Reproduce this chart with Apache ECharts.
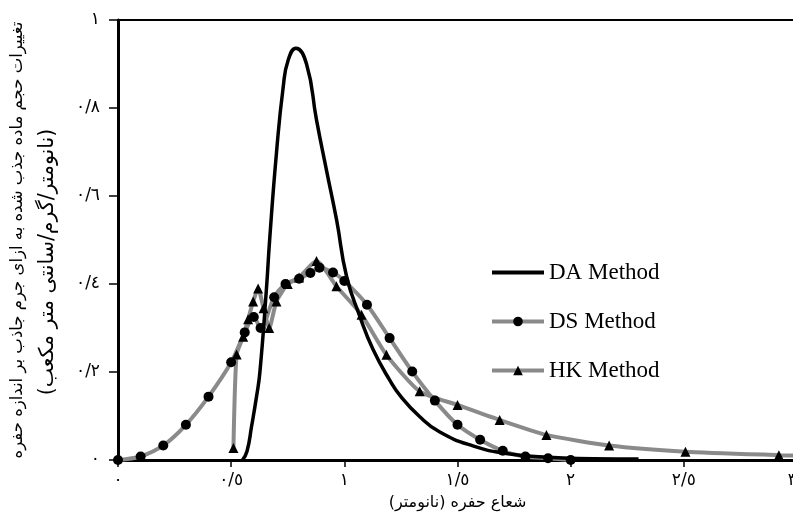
<!DOCTYPE html>
<html>
<head>
<meta charset="utf-8">
<script src="https://cdn.jsdelivr.net/npm/echarts@6/dist/echarts.min.js"></script>
<style>html,body{margin:0;padding:0;background:#fff}#c{width:793px;height:517px}</style>
</head>
<body>
<div id="c"></div>
<script>
// Data
const seriesNames = ['DA Method', 'DS Method', 'HK Method'];
const xTickLabels = ['٠', '٠/٥', '١', '١/٥', '٢', '٢/٥', '٣'];
const yTickLabels = ['٠', '٠/٢', '٠/٤', '٠/٦', '٠/٨', '١'];
const xAxisTitle = 'شعاع حفره (نانومتر)';
const yAxisTitleLine1 = 'تغییرات حجم ماده جذب شده به ازای جرم جاذب بر اندازه حفره';
const yAxisTitleLine2 = '(نانومتر/گرم/سانتی متر مکعب)';

const daX = [0.55, 0.57, 0.59, 0.612, 0.627, 0.656, 0.67, 0.70, 0.73, 0.752, 0.786, 0.833, 0.877, 0.921, 0.966, 1.01, 1.068, 1.127, 1.2, 1.25, 1.33, 1.42, 1.568, 1.715, 1.9, 2.1, 2.3];
const daY = [0.0, 0.02, 0.076, 0.144, 0.2, 0.39, 0.5, 0.697, 0.848, 0.909, 0.936, 0.9, 0.773, 0.659, 0.545, 0.417, 0.327, 0.251, 0.182, 0.144, 0.1, 0.064, 0.032, 0.015, 0.006, 0.003, 0.002];

const dsX = [0, 0.1, 0.2, 0.3, 0.4, 0.5, 0.56, 0.6, 0.63, 0.69, 0.74, 0.8, 0.85, 0.89, 0.95, 1.0, 1.1, 1.2, 1.3, 1.4, 1.5, 1.6, 1.7, 1.8, 1.9, 2.0];
const dsY = [0, 0.008, 0.033, 0.08, 0.144, 0.222, 0.29, 0.325, 0.30, 0.37, 0.40, 0.412, 0.425, 0.437, 0.426, 0.407, 0.353, 0.277, 0.201, 0.135, 0.08, 0.046, 0.021, 0.008, 0.004, 0.0];

const hkX = [0.51, 0.524, 0.553, 0.575, 0.597, 0.619, 0.643, 0.668, 0.70, 0.75, 0.80, 0.877, 0.965, 1.076, 1.186, 1.333, 1.5, 1.686, 1.893, 2.17, 2.507, 2.92, 3.0];
const hkY = [0.027, 0.24, 0.28, 0.32, 0.36, 0.39, 0.345, 0.30, 0.36, 0.40, 0.415, 0.452, 0.395, 0.33, 0.239, 0.156, 0.125, 0.091, 0.057, 0.033, 0.019, 0.011, 0.01];

const zip = (xs, ys) => xs.map((x, i) => [x, ys[i]]);

const chart = echarts.init(document.getElementById('c'), null, {renderer: 'canvas'});
const serif = "'Liberation Serif', 'DejaVu Serif', serif";
const persian = "'DejaVu Sans', sans-serif";
chart.setOption({
  animation: false,
  backgroundColor: '#fff',
  grid: {left: 118, right: -4, top: 20, bottom: 57, show: true, borderColor: '#000', borderWidth: 2,
    containLabel: false, outerBoundsMode: 'none'},
  legend: {
    orient: 'vertical', left: 485, top: 256, itemWidth: 52, itemHeight: 12, itemGap: 26,
    lineStyle: {width: 4},
    textStyle: {fontFamily: serif, fontSize: 23, color: '#000'},
    data: [
      {name: seriesNames[0], itemStyle: {opacity: 0}},
      {name: seriesNames[1]},
      {name: seriesNames[2]}
    ]
  },
  xAxis: {
    type: 'value', min: 0, max: 3, interval: 0.5,
    name: xAxisTitle, nameLocation: 'middle', nameGap: 35,
    nameTextStyle: {fontFamily: persian, fontSize: 16, color: '#000'},
    axisLine: {lineStyle: {color: '#000', width: 3}},
    axisTick: {show: true, length: 7, lineStyle: {color: '#000', width: 1.5}},
    axisLabel: {fontFamily: persian, fontSize: 17, color: '#000', margin: 12, alignMaxLabel: 'right',
      formatter: v => xTickLabels[Math.round(v / 0.5)]},
    splitLine: {show: false}
  },
  yAxis: {
    type: 'value', min: 0, max: 1, interval: 0.2,
    name: '{a|' + yAxisTitleLine1 + '}\n{b|' + yAxisTitleLine2 + '}',
    nameLocation: 'middle', nameGap: 55, nameRotate: 90,
    nameTextStyle: {fontFamily: persian, color: '#000',
      rich: {
        a: {fontFamily: persian, fontSize: 16.5, color: '#000', lineHeight: 30},
        b: {fontFamily: persian, fontSize: 20.5, color: '#000', lineHeight: 30, padding: [0, 44, 0, 0]}
      }},
    axisLine: {lineStyle: {color: '#000', width: 3}},
    axisTick: {show: true, length: 9, lineStyle: {color: '#000', width: 1.5}},
    axisLabel: {fontFamily: persian, fontSize: 17, color: '#000', margin: 18,
      formatter: v => yTickLabels[Math.round(v / 0.2)]},
    splitLine: {show: false}
  },
  series: [
    {
      name: seriesNames[0], type: 'line', data: zip(daX, daY), smooth: 0.5,
      symbol: 'none', lineStyle: {color: '#000', width: 3.5}, itemStyle: {color: '#000'}, z: 3
    },
    {
      name: seriesNames[1], type: 'line', data: zip(dsX, dsY), smooth: 0.3,
      symbol: 'circle', symbolSize: 10, showAllSymbol: true,
      lineStyle: {color: '#8a8a8a', width: 4}, itemStyle: {color: '#000'}, z: 2
    },
    {
      name: seriesNames[2], type: 'line', data: zip(hkX, hkY), smooth: 0.2,
      symbol: 'triangle', symbolSize: 10, showAllSymbol: true,
      lineStyle: {color: '#8a8a8a', width: 4}, itemStyle: {color: '#000'}, z: 2
    }
  ]
});
</script>
</body>
</html>
